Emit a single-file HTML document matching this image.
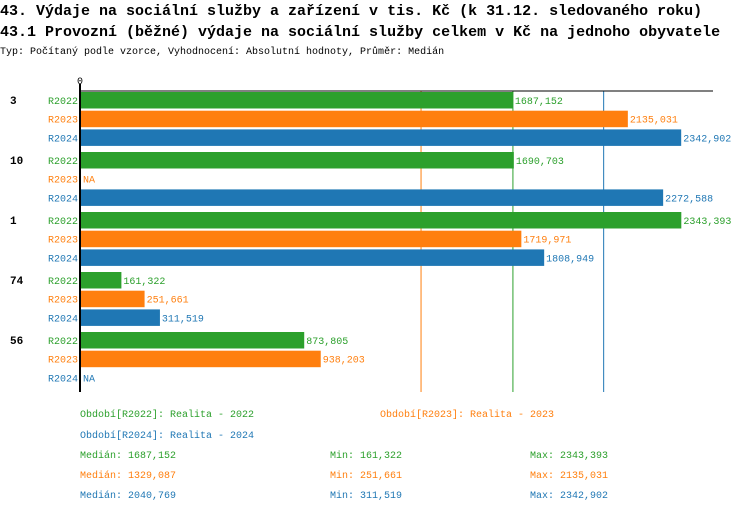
<!DOCTYPE html>
<html><head><meta charset="utf-8"><style>
body{margin:0;background:#fff;width:750px;height:512px;overflow:hidden;font-family:"Liberation Mono","DejaVu Sans Mono",monospace}
svg text{font-family:"Liberation Mono","DejaVu Sans Mono",monospace}
</style></head><body>
<svg id="c" width="750" height="512">
<text x="0" y="15" font-size="15" font-weight="bold">43. Výdaje na sociální služby a zařízení v tis. Kč (k 31.12. sledovaného roku)</text>
<text x="0" y="36" font-size="15" font-weight="bold">43.1 Provozní (běžné) výdaje na sociální služby celkem v Kč na jednoho obyvatele</text>
<text x="0" y="54" font-size="10">Typ: Počítaný podle vzorce, Vyhodnocení: Absolutní hodnoty, Průměr: Medián</text>
<text x="80" y="84" font-size="10" text-anchor="middle">0</text>
<g id="medlines"></g>
<g id="marks"></g>
<line x1="80" y1="91" x2="713" y2="91" stroke="#000" stroke-width="1"/>
<line x1="80" y1="84" x2="80" y2="392" stroke="#000" stroke-width="2"/>
<g font-size="10">
<text x="80" y="417" fill="#2ca02c">Období[R2022]: Realita - 2022</text>
<text x="380" y="417" fill="#ff7f0e">Období[R2023]: Realita - 2023</text>
<text x="80" y="438" fill="#1f77b4">Období[R2024]: Realita - 2024</text>
<text x="80" y="458" fill="#2ca02c">Medián: 1687,152</text>
<text x="330" y="458" fill="#2ca02c">Min: 161,322</text>
<text x="530" y="458" fill="#2ca02c">Max: 2343,393</text>
<text x="80" y="478" fill="#ff7f0e">Medián: 1329,087</text>
<text x="330" y="478" fill="#ff7f0e">Min: 251,661</text>
<text x="530" y="478" fill="#ff7f0e">Max: 2135,031</text>
<text x="80" y="498" fill="#1f77b4">Medián: 2040,769</text>
<text x="330" y="498" fill="#1f77b4">Min: 311,519</text>
<text x="530" y="498" fill="#1f77b4">Max: 2342,902</text>
</g>
</svg>
<script>
const categories = ["3","10","1","74","56"];
const seriesNames = ["R2022","R2023","R2024"];
const r2022 = [1687152,1690703,2343393,161322,873805];
const r2023 = [2135031,null,1719971,251661,938203];
const r2024 = [2342902,2272588,1808949,311519,null];
const medians = [1687152,1329087,2040769];
const colors = ["#2ca02c","#ff7f0e","#1f77b4"];
const NS="http://www.w3.org/2000/svg";
const g=document.getElementById('marks');
const gm=document.getElementById('medlines');
const x0=80, k=0.0002566;
function xs(v){return x0+v*k;}
function yRow(ci,si){return 92+ci*60+si*18.7;}
function fmt(v){const s=String(v);return s.slice(0,s.length-3)+","+s.slice(-3);}
function mk(t,a,p){const e=document.createElementNS(NS,t);for(const n in a)e.setAttribute(n,a[n]);(p||g).appendChild(e);return e;}
medians.forEach((m,si)=>{
  const l=mk('line',{x1:xs(m),y1:91,x2:xs(m),y2:392,stroke:colors[si],'stroke-width':1},gm);
  
  
});
const all=[r2022,r2023,r2024];
categories.forEach((c,ci)=>{
  const t=mk('text',{x:10,y:yRow(ci,0)+12,'font-size':11,'font-weight':'bold'});
  t.textContent=c;
  
  
  all.forEach((arr,si)=>{
    const y=yRow(ci,si), v=arr[ci];
    const l=mk('text',{x:78,y:y+12,'font-size':10,fill:colors[si],'text-anchor':'end'});
    l.textContent=seriesNames[si];
    
    
    if(v==null){
      const n=mk('text',{x:83,y:y+12,'font-size':10,fill:colors[si]});
      n.textContent="NA";
      
      
      return;
    }
    const r=mk('rect',{x:x0,y:y,width:xs(v)-x0,height:16.5,fill:colors[si]});
    
    
    const vl=mk('text',{x:xs(v)+2,y:y+12,'font-size':10,fill:colors[si]});
    vl.textContent=fmt(v);
    
    
  });
});
</script>
</body></html>
